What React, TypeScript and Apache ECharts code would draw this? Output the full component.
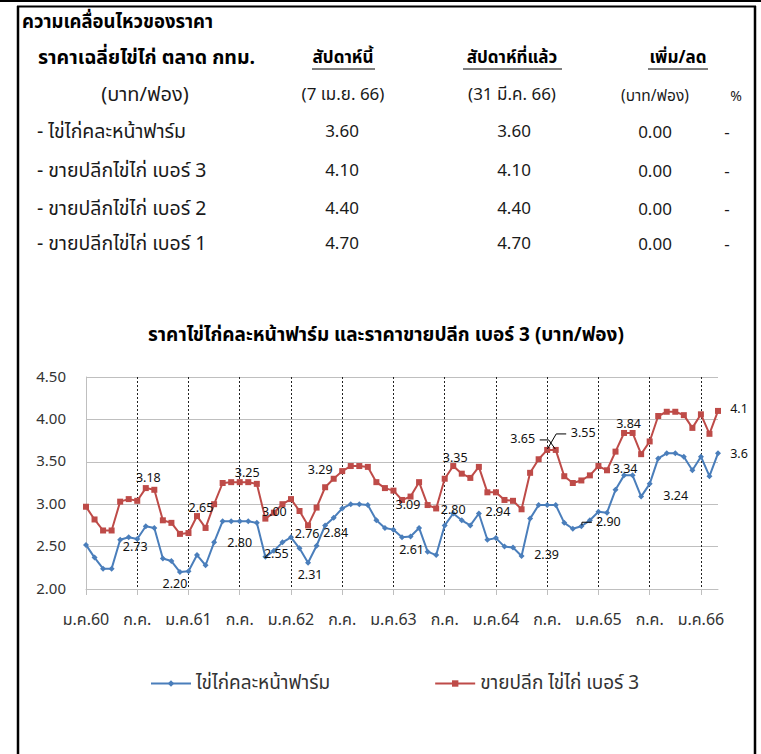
import React, { useEffect, useRef } from "react";
import * as echarts from "echarts";

const FONT = 'Tahoma, "Noto Sans Thai", "Noto Sans Thai UI", "Leelawadee UI", "DejaVu Sans", sans-serif';

// ---------- table data ----------
const TABLE_TITLE = "ความเคลื่อนไหวของราคา";
const TABLE_HEADERS = ["ราคาเฉลี่ยไข่ไก่ ตลาด กทม.", "สัปดาห์นี้", "สัปดาห์ที่แล้ว", "เพิ่ม/ลด"];
const TABLE_SUBHEADERS = ["(บาท/ฟอง)", "(7 เม.ย. 66)", "(31 มี.ค. 66)", "(บาท/ฟอง)", "%"];
const ROW_LABELS = ["- ไข่ไก่คละหน้าฟาร์ม", "- ขายปลีกไข่ไก่ เบอร์ 3", "- ขายปลีกไข่ไก่ เบอร์ 2", "- ขายปลีกไข่ไก่ เบอร์ 1"];
const THIS_WEEK = ["3.60", "4.10", "4.40", "4.70"];
const LAST_WEEK = ["3.60", "4.10", "4.40", "4.70"];
const CHANGE = ["0.00", "0.00", "0.00", "0.00"];
const CHANGE_PCT = ["-", "-", "-", "-"];

// ---------- chart data ----------
const CHART_TITLE = "ราคาไข่ไก่คละหน้าฟาร์ม และราคาขายปลีก เบอร์ 3 (บาท/ฟอง)";
const SERIES_NAMES = ["ไข่ไก่คละหน้าฟาร์ม", "ขายปลีก ไข่ไก่ เบอร์ 3"];
const CATEGORIES = [
  "ม.ค.60", "ก.พ.60", "มี.ค.60", "เม.ย.60", "พ.ค.60", "มิ.ย.60", "ก.ค.60", "ส.ค.60", "ก.ย.60", "ต.ค.60", "พ.ย.60", "ธ.ค.60",
  "ม.ค.61", "ก.พ.61", "มี.ค.61", "เม.ย.61", "พ.ค.61", "มิ.ย.61", "ก.ค.61", "ส.ค.61", "ก.ย.61", "ต.ค.61", "พ.ย.61", "ธ.ค.61",
  "ม.ค.62", "ก.พ.62", "มี.ค.62", "เม.ย.62", "พ.ค.62", "มิ.ย.62", "ก.ค.62", "ส.ค.62", "ก.ย.62", "ต.ค.62", "พ.ย.62", "ธ.ค.62",
  "ม.ค.63", "ก.พ.63", "มี.ค.63", "เม.ย.63", "พ.ค.63", "มิ.ย.63", "ก.ค.63", "ส.ค.63", "ก.ย.63", "ต.ค.63", "พ.ย.63", "ธ.ค.63",
  "ม.ค.64", "ก.พ.64", "มี.ค.64", "เม.ย.64", "พ.ค.64", "มิ.ย.64", "ก.ค.64", "ส.ค.64", "ก.ย.64", "ต.ค.64", "พ.ย.64", "ธ.ค.64",
  "ม.ค.65", "ก.พ.65", "มี.ค.65", "เม.ย.65", "พ.ค.65", "มิ.ย.65", "ก.ค.65", "ส.ค.65", "ก.ย.65", "ต.ค.65", "พ.ย.65", "ธ.ค.65",
  "ม.ค.66", "ก.พ.66", "มี.ค.66",
];
const FARM_PRICE = [
  2.52, 2.37, 2.24, 2.24, 2.58, 2.61, 2.59, 2.74, 2.72, 2.36, 2.33, 2.20,
  2.21, 2.40, 2.28, 2.55, 2.80, 2.80, 2.80, 2.80, 2.78, 2.38, 2.45, 2.55,
  2.61, 2.48, 2.31, 2.51, 2.75, 2.84, 2.95, 3.00, 3.00, 2.99, 2.81, 2.72,
  2.70, 2.61, 2.62, 2.72, 2.44, 2.40, 2.75, 2.89, 2.81, 2.75, 2.89, 2.58,
  2.60, 2.50, 2.49, 2.39, 2.83, 2.99, 2.99, 2.99, 2.78, 2.71, 2.74, 2.81,
  2.91, 2.90, 3.17, 3.34, 3.34, 3.09, 3.24, 3.54, 3.60, 3.60, 3.56, 3.40,
  3.56, 3.33, 3.60,
];
const RETAIL_NO3 = [
  2.97, 2.82, 2.69, 2.69, 3.03, 3.06, 3.04, 3.19, 3.17, 2.81, 2.78, 2.65,
  2.66, 2.86, 2.72, 3.00, 3.25, 3.26, 3.26, 3.26, 3.24, 2.83, 2.90, 3.00,
  3.06, 2.92, 2.75, 2.96, 3.20, 3.30, 3.39, 3.45, 3.45, 3.44, 3.26, 3.19,
  3.16, 3.05, 3.09, 3.26, 2.99, 2.95, 3.30, 3.45, 3.36, 3.31, 3.44, 3.14,
  3.14, 3.05, 3.04, 2.94, 3.37, 3.53, 3.64, 3.64, 3.33, 3.25, 3.28, 3.34,
  3.45, 3.40, 3.62, 3.84, 3.84, 3.59, 3.74, 4.04, 4.09, 4.09, 4.05, 3.90,
  4.06, 3.83, 4.10,
];
const Y_TICKS = [2.0, 2.5, 3.0, 3.5, 4.0, 4.5];

// annotation texts shown on the chart (index of the anchoring point, text)
const FARM_NOTE_IDX = [6, 11, 18, 21, 26, 29, 38, 43, 51, 58, 63, 66, 74];
const FARM_NOTE_TXT = ["2.73", "2.20", "2.80", "2.55", "2.31", "2.84", "2.61", "2.80", "2.39", "2.90", "3.34", "3.24", "3.6"];
const RETAIL_NOTE_IDX = [7, 13, 19, 21, 26, 28, 37, 43, 48, 54, 55, 63, 74];
const RETAIL_NOTE_TXT = ["3.18", "2.65", "3.25", "3.00", "2.76", "3.29", "3.09", "3.35", "2.94", "3.55", "3.65", "3.84", "4.1"];

// layout: label offsets (px) relative to the anchoring point
const FARM_NOTE_OFF = [[-2, 9], [-5, 12], [0, 22], [11, -2], [2, 13], [2, 16], [1, 14], [0, -3], [25, 0], [27, -4], [1, -6], [26, 13], [21, 1]];
const RETAIL_NOTE_OFF = [[2.5, -10], [4, -8], [-1, -8.5], [9, -6], [-1, 9], [-5, -17], [6, 6], [2, -8], [2, 20], [36, -16], [-33, -10], [4.5, -8], [21, -1]];
// leader lines: [seriesIndex, pointIndex, relative points]
const LEADERS: [number, number, number[][]][] = [
  [1, 55, [[-16, -10], [-7, -10], [-0.5, -1]]],
  [1, 54, [[19, -16], [9, -16], [0.3, -1]]],
  [0, 58, [[10.6, -4], [0.6, -4], [0.6, -1]]],
];

const BLUE = "#4a7ebb";
const RED = "#be4b48";

function withNotes(values: number[], idx: number[], txt: string[], off: number[][]) {
  return values.map((v, i) => {
    const k = idx.indexOf(i);
    if (k < 0) return v;
    return {
      value: v,
      label: {
        show: true,
        position: "inside",
        formatter: txt[k],
        offset: off[k],
        color: "#111",
        fontSize: 12.5,
        fontFamily: FONT,
      },
    };
  });
}

function tableGraphics(): any[] {
  const els: any[] = [];
  const txt = (text: string, x: number, y: number, opts: any = {}) =>
    els.push({
      type: "text",
      silent: true,
      style: {
        text,
        x,
        y,
        fill: opts.fill || "#1a1a1a",
        fontSize: opts.size || 17,
        fontWeight: opts.bold ? "bold" : "normal",
        fontFamily: FONT,
        textAlign: opts.align || "center",
        textVerticalAlign: "middle",
      },
    });
  const line = (x1: number, y1: number, x2: number, y2: number, w: number) =>
    els.push({
      type: "line",
      silent: true,
      shape: { x1, y1, x2, y2 },
      style: { stroke: "#000", lineWidth: w },
    });

  // frame
  line(0, 1, 761, 1, 2);
  line(17, 6.5, 756, 6.5, 2);
  line(18, 6, 18, 754, 2.5);
  line(755, 6, 755, 754, 2.5);

  txt(TABLE_TITLE, 22, 22, { bold: true, align: "left", fill: "#000", size: 18.5 });
  txt(TABLE_HEADERS[0], 38, 58, { bold: true, align: "left", fill: "#000", size: 19.5 });
  txt(TABLE_HEADERS[1], 343, 58, { bold: true, fill: "#000" });
  txt(TABLE_HEADERS[2], 512, 58, { bold: true, fill: "#000" });
  txt(TABLE_HEADERS[3], 678, 58, { bold: true, fill: "#000" });
  line(312, 69, 375, 69, 1);
  line(463, 69, 562, 69, 1);
  line(648, 69, 708, 69, 1);

  txt(TABLE_SUBHEADERS[0], 145, 95, { size: 20 });
  txt(TABLE_SUBHEADERS[1], 343, 95);
  txt(TABLE_SUBHEADERS[2], 512, 95);
  txt(TABLE_SUBHEADERS[3], 655, 96, { size: 15.5 });
  txt(TABLE_SUBHEADERS[4], 736, 96, { size: 14 });

  const rowY = [132, 171, 209, 244];
  ROW_LABELS.forEach((lab, r) => {
    txt(lab, 37, rowY[r], { align: "left", size: 19.5 });
    txt(THIS_WEEK[r], 342, rowY[r]);
    txt(LAST_WEEK[r], 514, rowY[r]);
    txt(CHANGE[r], 655, rowY[r] + 1);
    txt(CHANGE_PCT[r], 727, rowY[r] + 1);
  });
  return els;
}

export default function App() {
  const ref = useRef<HTMLDivElement>(null);
  useEffect(() => {
    if (!ref.current) return;
    const chart = echarts.init(ref.current, null, { renderer: "svg" });
    const isSix = (i: number) => i % 6 === 0;
    const option: any = {
      animation: false,
      backgroundColor: "#fff",
      textStyle: { fontFamily: FONT },
      title: {
        text: CHART_TITLE,
        left: 143,
        top: 321,
        textStyle: { fontFamily: FONT, fontSize: 19, fontWeight: "bold", color: "#000" },
      },
      legend: {
        data: SERIES_NAMES,
        left: 150,
        top: 674,
        padding: 0,
        itemWidth: 40,
        itemHeight: 8,
        itemGap: 104,
        textStyle: { fontFamily: FONT, fontSize: 19, color: "#333" },
      },
      grid: { left: 86, top: 377, width: 632, height: 212, containLabel: false },
      xAxis: {
        type: "category",
        data: CATEGORIES,
        boundaryGap: false,
        axisLine: { show: true, lineStyle: { color: "#bfbfbf", width: 1 } },
        axisTick: { show: true, interval: (i: number) => isSix(i), length: 6, lineStyle: { color: "#bfbfbf" } },
        axisLabel: {
          interval: (i: number) => isSix(i),
          formatter: (v: string) => (v.startsWith("ก.ค.") ? "ก.ค." : v),
          margin: 23,
          fontSize: 16,
          color: "#333",
          fontFamily: FONT,
        },
        splitLine: {
          show: true,
          interval: (i: number) => isSix(i) && i > 0,
          lineStyle: { color: "#222", type: [2, 2], width: 1 },
        },
      },
      yAxis: {
        type: "value",
        min: Y_TICKS[0],
        max: Y_TICKS[Y_TICKS.length - 1],
        interval: 0.5,
        axisLine: { show: true, lineStyle: { color: "#bfbfbf" } },
        axisTick: { show: false },
        axisLabel: {
          formatter: (v: number) => v.toFixed(2),
          margin: 20,
          fontSize: 15,
          color: "#333",
          fontFamily: FONT,
        },
        splitLine: { show: true, lineStyle: { color: "#bfbfbf", width: 1 } },
      },
      series: [
        {
          name: SERIES_NAMES[0],
          type: "line",
          data: withNotes(FARM_PRICE, FARM_NOTE_IDX, FARM_NOTE_TXT, FARM_NOTE_OFF),
          symbol: "diamond",
          symbolSize: 6,
          showAllSymbol: true,
          lineStyle: { color: BLUE, width: 2 },
          itemStyle: { color: BLUE },
          z: 3,
        },
        {
          name: SERIES_NAMES[1],
          type: "line",
          data: withNotes(RETAIL_NO3, RETAIL_NOTE_IDX, RETAIL_NOTE_TXT, RETAIL_NOTE_OFF),
          symbol: "rect",
          symbolSize: 6,
          showAllSymbol: true,
          lineStyle: { color: RED, width: 2 },
          itemStyle: { color: RED },
          z: 3,
        },
      ],
      graphic: tableGraphics(),
    };
    chart.setOption(option);
    const seriesVals = [FARM_PRICE, RETAIL_NO3];
    const leaders = LEADERS.map(([s, i, pts]) => {
      const p = chart.convertToPixel({ gridIndex: 0 }, [CATEGORIES[i], seriesVals[s][i]]) as number[];
      return {
        type: "polyline",
        silent: true,
        z: 20,
        shape: { points: pts.map(([dx, dy]) => [p[0] + dx, p[1] + dy]) },
        style: { stroke: "#000", lineWidth: 1, fill: null },
      };
    });
    chart.setOption({ graphic: [...tableGraphics(), ...leaders] });
    return () => chart.dispose();
  }, []);
  return (
    <div
      ref={ref}
      style={{ position: "absolute", left: 0, top: 0, width: 761, height: 754, background: "#fff" }}
    />
  );
}
